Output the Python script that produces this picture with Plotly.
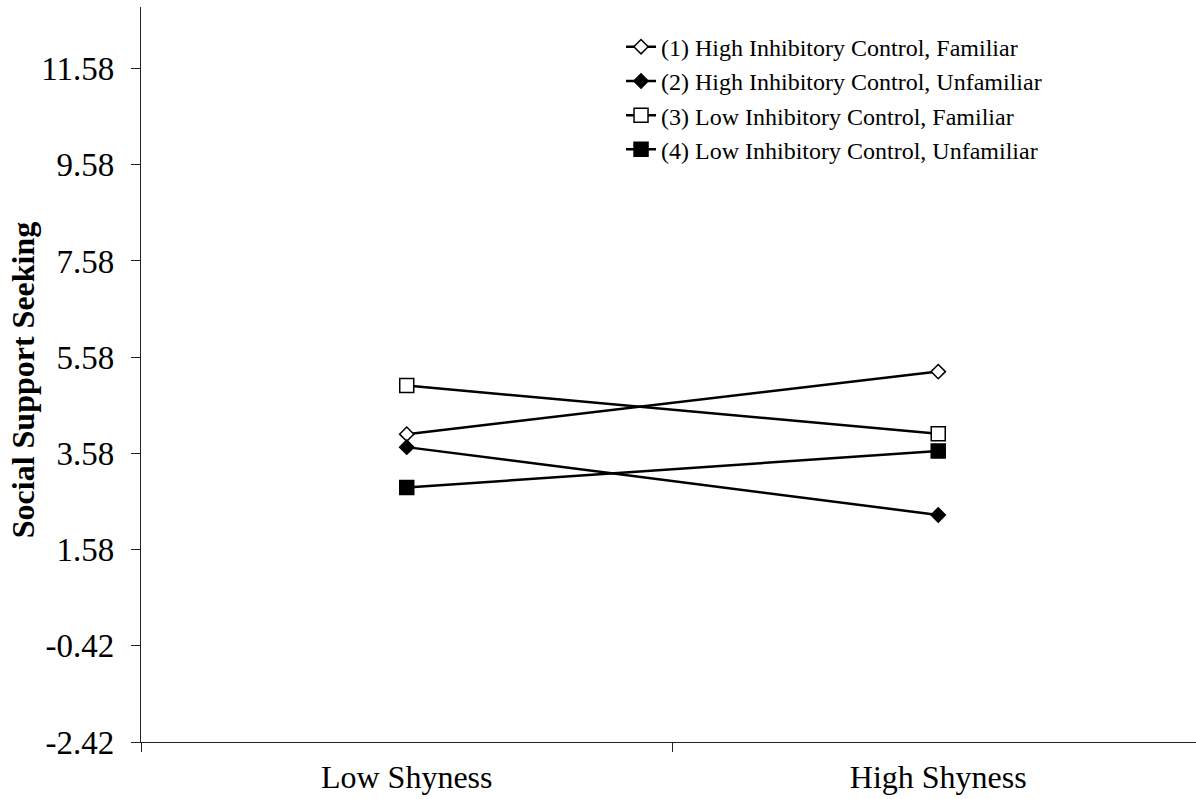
import plotly.graph_objects as go

categories = ["Low Shyness", "High Shyness"]
series_names = [
    "(1) High Inhibitory Control, Familiar",
    "(2) High Inhibitory Control, Unfamiliar",
    "(3) Low Inhibitory Control, Familiar",
    "(4) Low Inhibitory Control, Unfamiliar",
]
s1_high_ic_familiar = [3.98, 5.28]
s2_high_ic_unfamiliar = [3.71, 2.30]
s3_low_ic_familiar = [4.99, 3.99]
s4_low_ic_unfamiliar = [2.87, 3.63]
y_ticks = [-2.42, -0.42, 1.58, 3.58, 5.58, 7.58, 9.58, 11.58]

FONT = "Liberation Serif, Times New Roman, serif"

styles = [
    dict(symbol="diamond", color="white", size=11),
    dict(symbol="diamond", color="black", size=11),
    dict(symbol="square", color="white", size=14),
    dict(symbol="square", color="black", size=14),
]
values = [s1_high_ic_familiar, s2_high_ic_unfamiliar, s3_low_ic_familiar, s4_low_ic_unfamiliar]

fig = go.Figure()
for name, vals, st in zip(series_names, values, styles):
    fig.add_trace(go.Scatter(
        x=categories, y=vals, name=name, mode="lines+markers",
        line=dict(color="black", width=2.5),
        marker=dict(symbol=st["symbol"], size=st["size"], color=st["color"],
                    line=dict(color="black", width=1.5)),
    ))

fig.update_layout(
    width=1196, height=799,
    margin=dict(l=141, r=0, t=7, b=57),
    plot_bgcolor="white", paper_bgcolor="white",
    font=dict(family=FONT, color="black"),
    showlegend=True,
    legend=dict(
        x=0.455, y=0.976, xanchor="left", yanchor="top",
        font=dict(family=FONT, size=24, color="black"),
        bgcolor="rgba(0,0,0,0)", tracegroupgap=0, itemwidth=30,
    ),
    xaxis=dict(
        type="category", range=[-0.5, 1.485],
        showline=True, linecolor="#222", linewidth=1.3,
        ticks="outside", tickson="boundaries", ticklen=9, tickcolor="#222",
        tickfont=dict(family=FONT, size=32, color="black"),
        ticklabelstandoff=6,
        showgrid=False, zeroline=False,
    ),
    yaxis=dict(
        range=[-2.42, 12.86],
        tickvals=y_ticks, ticktext=[f"{v:.2f}" for v in y_ticks],
        showline=True, linecolor="#222", linewidth=1.3,
        ticks="outside", ticklen=9, tickcolor="#222",
        tickfont=dict(family=FONT, size=33, color="black"),
        ticklabelstandoff=10,
        showgrid=False, zeroline=False,
    ),
    annotations=[dict(
        text="<b>Social Support Seeking</b>", textangle=-90,
        xref="paper", yref="paper", x=-0.1118, y=0.4923,
        xanchor="center", yanchor="middle", showarrow=False,
        font=dict(family=FONT, size=32, color="black"),
    )],
)

fig.write_html("out.html", config={"displayModeBar": False},
               post_script="document.body.style.margin='0';")
